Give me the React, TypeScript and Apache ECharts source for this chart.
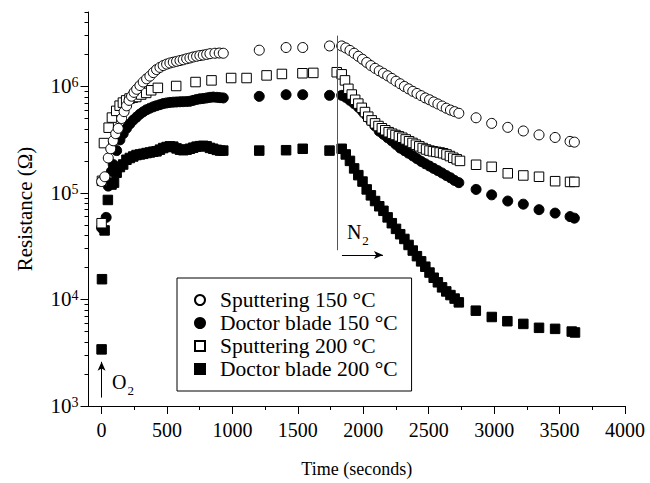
import React, { useEffect, useRef } from 'react';
import * as echarts from 'echarts';

const FONT = '"Liberation Serif", "Times New Roman", Times, serif';

// [time (s), resistance (Ω)]
const sputtering150: number[][] = [
  [0, 1.28e5], [25, 1.42e5], [51, 2.13e5], [70, 2.6e5], [89, 3.09e5], [108, 3.6e5], [127, 4.04e5], [153, 5.0e5],
  [172, 5.8e5], [191, 6.58e5], [210, 7.4e5], [229, 8.1e5], [248, 8.8e5], [268, 9.4e5], [293, 1.02e6], [318, 1.1e6],
  [344, 1.18e6], [369, 1.25e6], [395, 1.35e6], [420, 1.44e6], [446, 1.51e6], [471, 1.57e6], [497, 1.62e6],
  [522, 1.66e6], [548, 1.69e6], [573, 1.72e6], [599, 1.75e6], [624, 1.78e6], [650, 1.82e6], [675, 1.85e6],
  [700, 1.89e6], [726, 1.92e6], [751, 1.95e6], [777, 1.97e6], [803, 2.0e6], [828, 2.03e6], [866, 2.05e6],
  [899, 2.06e6], [930, 2.05e6], [1205, 2.19e6], [1410, 2.32e6], [1537, 2.32e6], [1742, 2.4e6],
  [1835, 2.4e6], [1866, 2.3e6], [1898, 2.18e6], [1930, 2.05e6], [1962, 1.92e6], [1994, 1.8e6], [2026, 1.68e6],
  [2058, 1.57e6], [2090, 1.48e6], [2122, 1.4e6], [2154, 1.33e6], [2186, 1.26e6], [2218, 1.19e6], [2250, 1.12e6],
  [2282, 1.06e6], [2314, 1.0e6], [2346, 9.5e5], [2378, 9.0e5], [2410, 8.6e5], [2442, 8.2e5], [2474, 7.8e5],
  [2506, 7.5e5], [2538, 7.15e5], [2570, 6.85e5], [2602, 6.55e5], [2634, 6.25e5], [2666, 6.0e5], [2698, 5.8e5],
  [2730, 5.6e5], [2862, 5.08e5], [2981, 4.5e5], [3104, 4.13e5], [3223, 3.82e5], [3343, 3.51e5], [3466, 3.32e5],
  [3580, 3.05e5], [3613, 3.0e5],
];

const doctorBlade150: number[][] = [
  [0, 4.7e4], [35, 5.9e4], [51, 1.16e5], [76, 1.6e5], [89, 1.85e5], [115, 2.5e5], [140, 3.15e5], [165, 3.6e5],
  [191, 4.05e5], [216, 4.45e5], [242, 4.83e5], [267, 5.15e5], [293, 5.5e5], [318, 5.78e5], [344, 6.05e5],
  [369, 6.25e5], [395, 6.44e5], [420, 6.6e5], [446, 6.75e5], [471, 6.9e5], [497, 7.0e5], [522, 7.08e5],
  [548, 7.12e5], [573, 7.15e5], [599, 7.18e5], [624, 7.2e5], [650, 7.22e5], [675, 7.26e5], [700, 7.4e5],
  [726, 7.55e5], [751, 7.65e5], [777, 7.7e5], [803, 7.8e5], [828, 7.9e5], [853, 7.95e5], [880, 7.9e5],
  [905, 7.85e5], [930, 7.8e5], [1205, 8.07e5], [1410, 8.37e5], [1537, 8.37e5], [1742, 8.25e5], [1835, 8.25e5],
  [1866, 7.9e5], [1898, 7.4e5], [1930, 6.9e5], [1962, 6.4e5], [1994, 5.85e5], [2026, 5.3e5], [2058, 4.75e5],
  [2090, 4.25e5], [2122, 3.8e5], [2154, 3.55e5], [2186, 3.3e5], [2218, 3.08e5], [2250, 2.85e5], [2282, 2.64e5],
  [2314, 2.5e5], [2346, 2.36e5], [2378, 2.23e5], [2410, 2.1e5], [2442, 1.98e5], [2474, 1.88e5], [2506, 1.79e5],
  [2538, 1.7e5], [2570, 1.62e5], [2602, 1.54e5], [2634, 1.46e5], [2666, 1.39e5], [2698, 1.31e5], [2730, 1.25e5],
  [2862, 1.08e5], [2981, 9.6e4], [3104, 8.4e4], [3223, 7.85e4], [3343, 6.97e4], [3466, 6.47e4], [3580, 6.0e4],
  [3613, 5.8e4],
];

const sputtering200: number[][] = [
  [0, 5.2e4], [3, 1.3e5], [18, 2.94e5], [54, 4.1e5], [79, 5.1e5], [112, 5.9e5], [138, 6.6e5], [163, 7.05e5],
  [188, 7.4e5], [214, 7.7e5], [239, 7.85e5], [265, 7.96e5], [303, 8.4e5], [341, 8.7e5], [379, 9.2e5], [430, 9.7e5],
  [570, 1.01e6], [718, 1.1e6], [840, 1.14e6], [990, 1.2e6], [1108, 1.2e6], [1261, 1.27e6], [1378, 1.31e6],
  [1535, 1.33e6], [1618, 1.34e6], [1797, 1.36e6], [1835, 1.3e6], [1860, 1.14e6], [1886, 9.5e5], [1912, 8.4e5],
  [1938, 7.5e5], [1962, 6.9e5], [1988, 6.3e5], [2013, 5.75e5], [2038, 5.2e5], [2064, 4.8e5], [2090, 4.5e5],
  [2116, 4.25e5], [2142, 4.05e5], [2168, 3.88e5], [2194, 3.72e5], [2220, 3.6e5], [2246, 3.5e5], [2272, 3.4e5],
  [2298, 3.3e5], [2324, 3.18e5], [2350, 3.06e5], [2376, 2.95e5], [2402, 2.84e5], [2428, 2.74e5], [2454, 2.64e5],
  [2480, 2.56e5], [2506, 2.5e5], [2532, 2.46e5], [2558, 2.43e5], [2584, 2.4e5], [2610, 2.36e5], [2636, 2.3e5],
  [2662, 2.22e5], [2688, 2.14e5], [2714, 2.07e5], [2739, 2.0e5], [2862, 1.84e5], [2981, 1.76e5], [3104, 1.53e5],
  [3223, 1.46e5], [3343, 1.42e5], [3466, 1.29e5], [3580, 1.27e5], [3613, 1.27e5],
];

const doctorBlade200: number[][] = [
  [0, 3.4e3], [3, 1.55e4], [23, 4.45e4], [48, 8.6e4], [76, 1.2e5], [95, 1.25e5], [115, 1.55e5], [140, 1.75e5],
  [165, 1.85e5], [190, 2.05e5], [216, 2.13e5], [242, 2.2e5], [267, 2.27e5], [293, 2.3e5], [318, 2.33e5],
  [344, 2.37e5], [369, 2.4e5], [395, 2.44e5], [420, 2.46e5], [446, 2.55e5], [471, 2.64e5], [497, 2.7e5],
  [522, 2.74e5], [548, 2.72e5], [573, 2.62e5], [599, 2.55e5], [624, 2.52e5], [650, 2.55e5], [675, 2.6e5],
  [700, 2.66e5], [726, 2.72e5], [751, 2.75e5], [777, 2.77e5], [803, 2.74e5], [828, 2.65e5], [853, 2.6e5],
  [880, 2.54e5], [905, 2.5e5], [930, 2.5e5], [1205, 2.5e5], [1410, 2.52e5], [1537, 2.6e5], [1742, 2.5e5],
  [1835, 2.6e5], [1866, 2.3e5], [1898, 2.0e5], [1930, 1.7e5], [1962, 1.47e5], [1994, 1.28e5], [2026, 1.08e5],
  [2058, 9.5e4], [2090, 8.4e4], [2122, 7.5e4], [2154, 6.8e4], [2186, 5.9e4], [2218, 5.2e4], [2250, 4.6e4],
  [2282, 4.1e4], [2314, 3.7e4], [2346, 3.25e4], [2378, 2.88e4], [2410, 2.55e4], [2442, 2.28e4], [2474, 2.03e4],
  [2506, 1.79e4], [2538, 1.6e4], [2570, 1.45e4], [2602, 1.3e4], [2634, 1.19e4], [2666, 1.1e4], [2698, 1.02e4],
  [2730, 9.4e3], [2860, 7.85e3], [2982, 6.85e3], [3101, 6.25e3], [3223, 5.9e3], [3343, 5.42e3], [3466, 5.3e3],
  [3593, 5.0e3], [3618, 4.9e3],
];

const xMajorTicks = [0, 500, 1000, 1500, 2000, 2500, 3000, 3500, 4000];
const xMinorTicks = [250, 750, 1250, 1750, 2250, 2750, 3250, 3750];
const yDecades = [1e3, 1e4, 1e5, 1e6];
const yMinorFactors = [2, 3, 4, 5, 6, 7, 8, 9];
const X_MIN = -100;
const X_MAX = 4000;
const Y_MIN = 1e3;
const Y_MAX = 5e6;

// annotation anchors (data coordinates)
const n2Line = [[1800, 3.0e6], [1800, 2.9e4]];
const n2Arrow = [[1837, 2.62e4], [2150, 2.62e4]];
const o2Arrow = [[0, 1.2e3], [0, 2.6e3]];
const n2Text = [1875, 4.3e4];
const o2Text = [80, 1.68e3];

const SERIES = [
  { name: 'Doctor blade 200 °C', data: doctorBlade200, symbol: 'rect', fill: '#000' },
  { name: 'Doctor blade 150 °C', data: doctorBlade150, symbol: 'circle', fill: '#000' },
  { name: 'Sputtering 200 °C', data: sputtering200, symbol: 'rect', fill: '#fff' },
  { name: 'Sputtering 150 °C', data: sputtering150, symbol: 'circle', fill: '#fff' },
];
const LEGEND_ORDER = ['Sputtering 150 °C', 'Doctor blade 150 °C', 'Sputtering 200 °C', 'Doctor blade 200 °C'];

export default function App() {
  const ref = useRef<HTMLDivElement>(null);
  useEffect(() => {
    const chart = echarts.init(ref.current!, null, { renderer: 'svg' });
    const yMinorLog: number[] = [];
    yDecades.forEach((d) => {
      yMinorFactors.forEach((k) => {
        const v = d * k;
        if (v <= Y_MAX) yMinorLog.push(Math.log10(v));
      });
    });
    const subRich = {
      b: { fontFamily: FONT, fontSize: 20, lineHeight: 20, color: '#000', verticalAlign: 'top' },
      s: { fontFamily: FONT, fontSize: 13, lineHeight: 13, color: '#000', padding: [12, 0, 0, 1], verticalAlign: 'top' },
    };
    const series: any[] = SERIES.map((s) => ({
      type: 'scatter',
      name: s.name,
      data: s.data,
      symbol: s.symbol,
      symbolSize: s.symbol === 'rect' ? 9.5 : 10,
      xAxisIndex: 0,
      yAxisIndex: 0,
      itemStyle: { color: s.fill, borderColor: '#000', borderWidth: 1, opacity: 1 },
      emphasis: { disabled: true },
      silent: true,
    }));
    series[0].markLine = {
      silent: true,
      animation: false,
      label: { show: false },
      symbol: ['none', 'none'],
      data: [
        [
          { coord: n2Line[0], lineStyle: { color: '#555', width: 1, type: 'solid' } },
          { coord: n2Line[1] },
        ],
        [
          { coord: n2Arrow[0], symbol: 'none', lineStyle: { color: '#000', width: 1, type: 'solid' } },
          { coord: n2Arrow[1], symbol: 'arrow', symbolSize: [6, 9] },
        ],
        [
          { coord: o2Arrow[0], symbol: 'none', lineStyle: { color: '#000', width: 1, type: 'solid' } },
          { coord: o2Arrow[1], symbol: 'arrow', symbolSize: [6, 9] },
        ],
      ],
    };
    series[0].markPoint = {
      silent: true,
      animation: false,
      symbol: 'circle',
      symbolSize: 0,
      data: [
        {
          coord: n2Text,
          label: { show: true, position: 'right', distance: 0, formatter: '{b|N}{s|2}', rich: subRich },
        },
        {
          coord: o2Text,
          label: { show: true, position: 'right', distance: 0, formatter: '{b|O}{s|2}', rich: subRich },
        },
      ],
    };

    const option: any = {
      animation: false,
      backgroundColor: '#fff',
      grid: { left: 88.5, right: 25, top: 12, bottom: 72 },
      legend: {
        data: LEGEND_ORDER.map((n) => ({ name: n, icon: n.includes('150') ? 'circle' : 'rect' })),
        orient: 'vertical',
        left: 177,
        top: 278,
        itemWidth: 10,
        itemHeight: 10,
        itemGap: 1,
        padding: [11, 14, 11, 17],
        borderColor: '#000',
        borderWidth: 1,
        selectedMode: false,
        textStyle: { fontFamily: FONT, fontSize: 21.5, color: '#000', padding: [0, 0, 0, 10] },
      },
      xAxis: [
        {
          type: 'value',
          min: X_MIN,
          max: X_MAX,
          name: 'Time (seconds)',
          nameLocation: 'middle',
          nameGap: 54,
          nameTextStyle: { fontFamily: FONT, fontSize: 18, color: '#000' },
          axisLine: { show: true, onZero: false, lineStyle: { color: '#000', width: 1 } },
          axisTick: { show: true, length: 8, customValues: xMajorTicks, lineStyle: { color: '#000' } },
          axisLabel: {
            customValues: xMajorTicks,
            margin: 14,
            fontFamily: FONT,
            fontSize: 20,
            color: '#000',
            formatter: (v: number) => String(v),
          },
          splitLine: { show: false },
        },
        {
          type: 'value',
          min: X_MIN,
          max: X_MAX,
          position: 'bottom',
          axisLine: { show: false },
          axisTick: { show: true, length: 4, customValues: xMinorTicks, lineStyle: { color: '#000' } },
          axisLabel: { show: false },
          splitLine: { show: false },
        },
      ],
      yAxis: [
        {
          type: 'log',
          logBase: 10,
          min: Y_MIN,
          max: Y_MAX,
          name: 'Resistance (Ω)',
          nameLocation: 'middle',
          nameGap: 53,
          nameTextStyle: { fontFamily: FONT, fontSize: 21, color: '#000' },
          axisLine: { show: true, onZero: false, lineStyle: { color: '#000', width: 1 } },
          axisTick: { show: true, length: 8, customValues: yDecades, lineStyle: { color: '#000' } },
          axisLabel: {
            customValues: yDecades,
            margin: 10,
            formatter: (v: number) => {
              const e = Math.log10(v);
              if (Math.abs(e - Math.round(e)) > 1e-6) return '';
              return '{b|10}{p|' + Math.round(e) + '}';
            },
            rich: {
              b: { fontFamily: FONT, fontSize: 21, lineHeight: 21, color: '#000', verticalAlign: 'top' },
              p: { fontFamily: FONT, fontSize: 14, lineHeight: 14, color: '#000', verticalAlign: 'top' },
            },
          },
          splitLine: { show: false },
        },
        {
          type: 'value',
          min: Math.log10(Y_MIN),
          max: Math.log10(Y_MAX),
          position: 'left',
          axisLine: { show: false, onZero: false },
          axisTick: { show: true, length: 4, customValues: yMinorLog, lineStyle: { color: '#000' } },
          axisLabel: { show: false },
          splitLine: { show: false },
        },
      ],
      series,
    };
    chart.setOption(option);
    return () => chart.dispose();
  }, []);
  return (
    <div
      ref={ref}
      style={{ position: 'fixed', left: 0, top: 0, width: 650, height: 483, background: '#fff' }}
    />
  );
}
